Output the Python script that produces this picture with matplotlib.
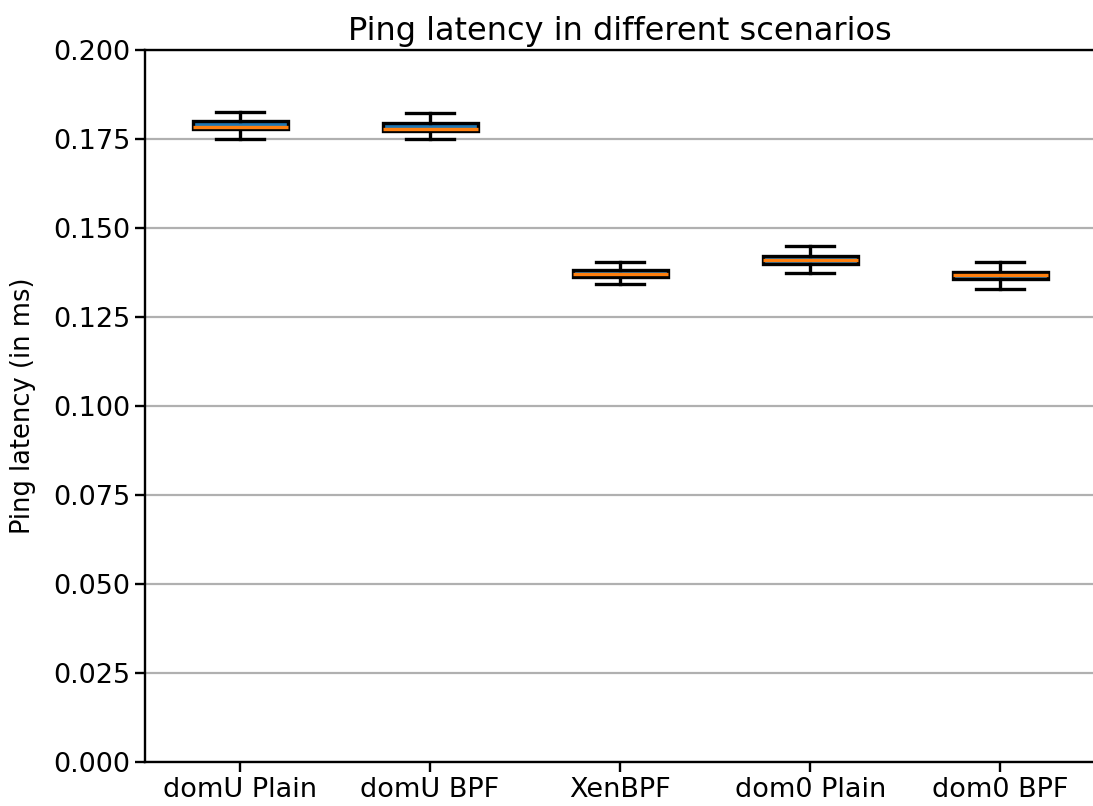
import matplotlib
matplotlib.use("Agg")
import matplotlib.pyplot as plt

# values (ms)
labels = ["domU Plain", "domU BPF", "XenBPF", "dom0 Plain", "dom0 BPF"]
whislo = [0.1750, 0.1749, 0.1343, 0.1373, 0.1330]
q1 = [0.1779, 0.1772, 0.1363, 0.1400, 0.1357]
med = [0.1785, 0.1778, 0.1371, 0.1411, 0.1368]
q3 = [0.1801, 0.1796, 0.1382, 0.1421, 0.1377]
whishi = [0.1826, 0.1822, 0.1405, 0.1449, 0.1405]

stats = []
for i in range(len(labels)):
    stats.append(dict(label=labels[i], whislo=whislo[i], q1=q1[i], med=med[i],
                      q3=q3[i], whishi=whishi[i], fliers=[]))

fig = plt.figure(figsize=(10.93, 8.06), dpi=100)
ax = fig.add_axes([145 / 1093, 1 - 762 / 806, 1 - 145 / 1093 + 0.002, (762 - 50) / 806])

lw = 2.4
ax.bxp(stats, patch_artist=True, showfliers=False,
       boxprops=dict(facecolor="#1f77b4", edgecolor="black", linewidth=lw),
       medianprops=dict(color="#ff7f0e", linewidth=lw),
       whiskerprops=dict(color="black", linewidth=lw),
       capprops=dict(color="black", linewidth=lw))

ax.set_ylim(0, 0.2)
ax.set_yticks([0.025 * k for k in range(9)])
ax.yaxis.grid(True, color="#b0b0b0", linewidth=1.6)
ax.set_axisbelow(True)
ax.spines["right"].set_visible(False)
for s in ["left", "bottom", "top"]:
    ax.spines[s].set_linewidth(1.7)
ax.tick_params(labelsize=19.5, width=1.7, length=7)
ax.set_ylabel("Ping latency (in ms)", fontsize=18.5, labelpad=12)
ax.set_title("Ping latency in different scenarios", fontsize=23, pad=7)

fig.savefig("out.png", dpi=100)
